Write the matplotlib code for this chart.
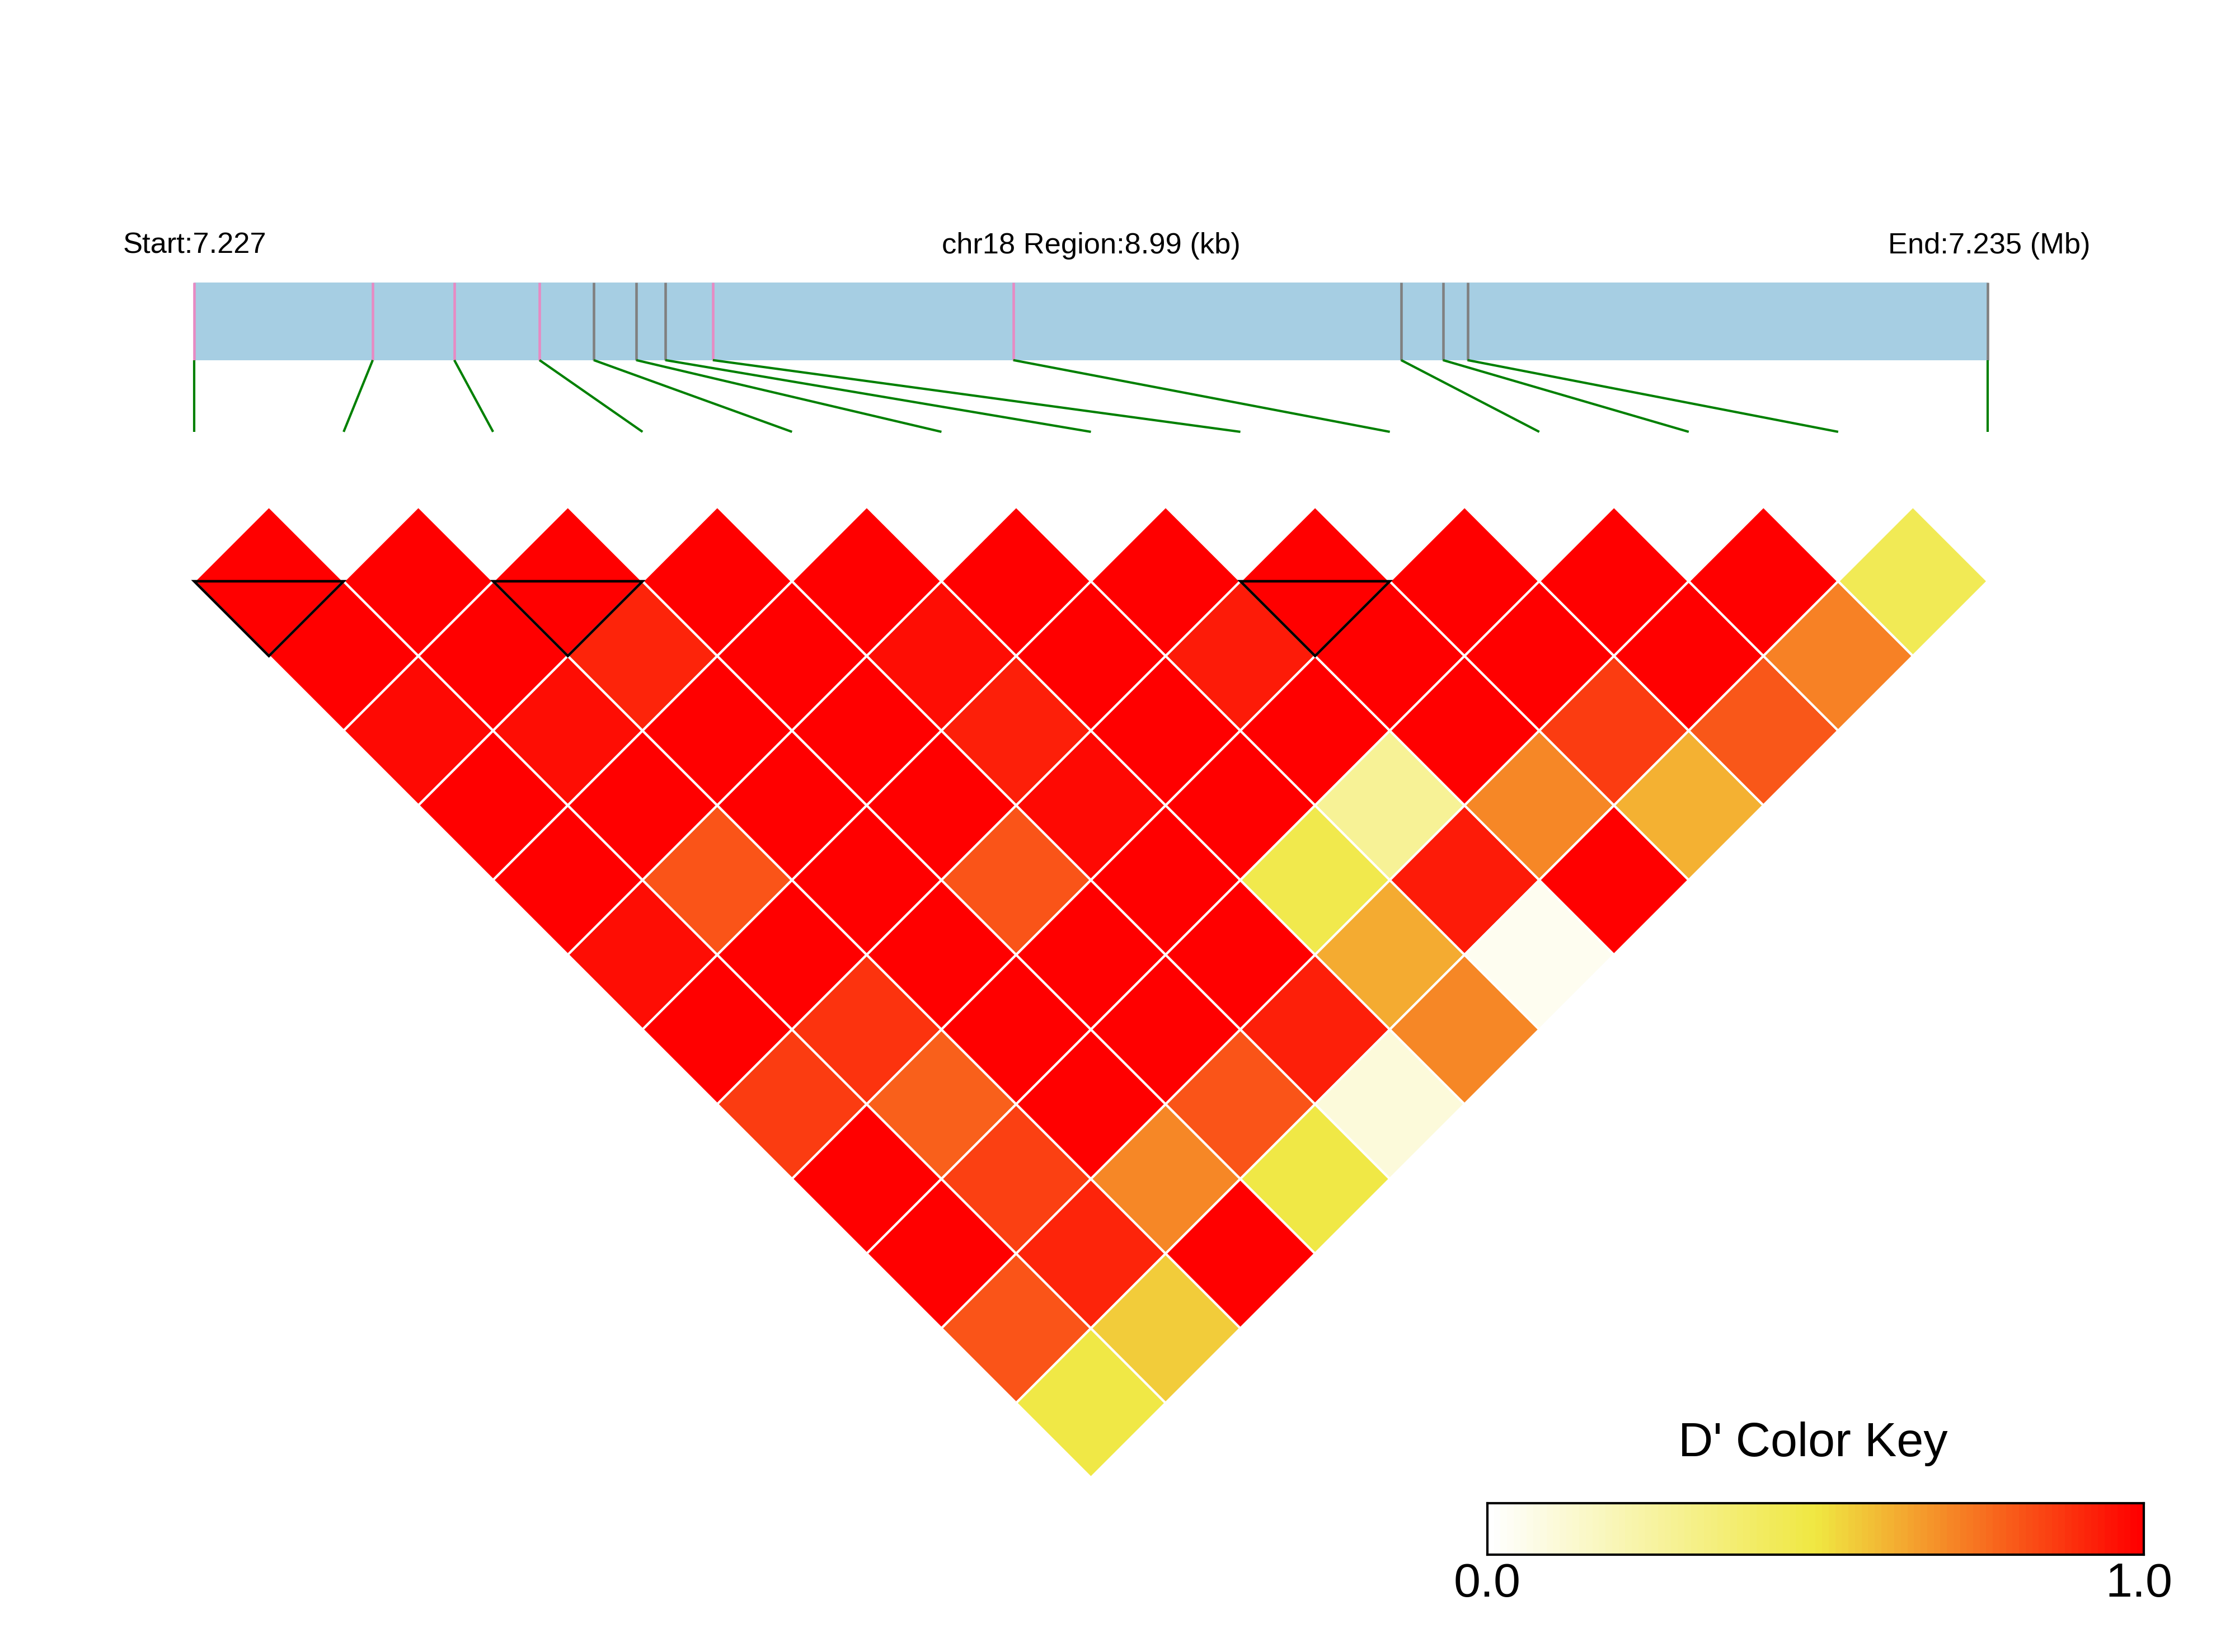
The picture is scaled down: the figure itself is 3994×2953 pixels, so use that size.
import numpy as np
import matplotlib.pyplot as plt
from matplotlib.colors import LinearSegmentedColormap, Normalize
from matplotlib.collections import PolyCollection, LineCollection
from matplotlib.patches import Rectangle, Polygon

plt.rcParams['font.family'] = ['Liberation Sans', 'DejaVu Sans']

chrom = 'chr18'
# SNP positions (bp)
snp_pos = np.array([7226505, 7227400, 7227809, 7228236, 7228508, 7228721, 7228867,
                    7229105, 7230611, 7232555, 7232765, 7232888, 7235495])
# 1 = highlighted (pink) marker, 0 = normal (grey)
snp_flag = [1, 1, 1, 1, 0, 0, 0, 1, 1, 0, 0, 0, 0]

# upper triangle of D' matrix, row i holds pairs (i, i+1 .. n-1)
dprime_rows = [
    [1.00, 1.00, 0.98, 1.00, 1.00, 0.97, 1.00, 0.87, 1.00, 1.00, 0.82, 0.49],
    [1.00, 1.00, 0.97, 1.00, 0.82, 1.00, 0.89, 0.79, 0.86, 0.92, 0.56],
    [1.00, 0.92, 1.00, 1.00, 1.00, 1.00, 1.00, 1.00, 0.71, 1.00],
    [1.00, 1.00, 1.00, 1.00, 0.82, 1.00, 1.00, 0.82, 0.49],
    [1.00, 0.97, 0.93, 0.98, 1.00, 1.00, 0.93, 0.10],
    [1.00, 1.00, 1.00, 1.00, 0.47, 0.63, 0.71],
    [1.00, 0.94, 1.00, 0.28, 0.94, 0.04],
    [1.00, 1.00, 1.00, 0.71, 1.00],
    [1.00, 1.00, 0.87, 0.62],
    [1.00, 1.00, 0.81],
    [1.00, 0.72],
    [0.45],
]

# haplotype blocks (first SNP, last SNP)
blocks = [(0, 1), (2, 3), (7, 8)]

n = len(snp_pos)
W, H = 3994, 2953
fig = plt.figure(figsize=(W / 300, H / 300), dpi=300)
ax = fig.add_axes([0, 0, 1, 1])
unit = 267.08
x0_px, y0_px = 347, 1039
ax.set_xlim(-x0_px / unit, (W - x0_px) / unit)
ax.set_ylim((H - y0_px) / unit, -y0_px / unit)
ax.axis('off')

cmap = LinearSegmentedColormap.from_list('ld', ['#FFFFFF', '#F0E842', '#FF0000'])

# LD diamonds
verts, vals = [], []
for i, row in enumerate(dprime_rows):
    for k, v in enumerate(row):
        j = i + 1 + k
        cx = (i + j) / 2
        cy = (j - i - 1) * 0.5
        verts.append([(cx - 0.5, cy), (cx, cy - 0.5), (cx + 0.5, cy), (cx, cy + 0.5)])
        vals.append(v)
pc = PolyCollection(verts, array=np.array(vals), cmap=cmap, norm=Normalize(0, 1),
                    edgecolors='white', linewidths=1.0)
ax.add_collection(pc)

# block outlines
for i, j in blocks:
    ax.add_patch(Polygon([(i, 0), (j, 0), ((i + j) / 2, (j - i) * 0.5)],
                         closed=True, fill=False, ec='black', lw=1.1))

# region bar
bar_top, bar_bot, link_bot = -2.0, -1.48, -1.0
ax.add_patch(Rectangle((0, bar_top), n - 1, bar_bot - bar_top, fc='#A6CEE3', ec='none'))
bx = (snp_pos - snp_pos[0]) / (snp_pos[-1] - snp_pos[0]) * (n - 1)
tick_cols = ['#E78AC3' if f else '#808080' for f in snp_flag]
ax.vlines(bx, bar_top, bar_bot, colors=tick_cols, lw=1.1)
links = [[(bx[k], bar_bot), (k, link_bot)] for k in range(n)]
ax.add_collection(LineCollection(links, colors='green', linewidths=1.0))

# header text
start_mb = snp_pos[0] / 1e6
end_mb = snp_pos[-1] / 1e6
region_kb = (snp_pos[-1] - snp_pos[0]) / 1000
ty = -2.195
ax.text(-0.476, ty, 'Start:{:.3f}'.format(start_mb), ha='left', va='baseline', fontsize=12.6)
ax.text((n - 1) / 2, ty, '{} Region:{:.2f} (kb)'.format(chrom, region_kb),
        ha='center', va='baseline', fontsize=12.6)
ax.text(12.686, ty, 'End:{:.3f} (Mb)'.format(end_mb), ha='right', va='baseline', fontsize=12.6)

# color key
cax = fig.add_axes([2658 / W, 1 - 2779 / H, (3831 - 2658) / W, 92 / H])
cax.imshow(np.linspace(0, 1, 100)[None, :], cmap=cmap, aspect='auto',
           extent=[0, 1, 0, 1], interpolation='nearest')
cax.set_xticks([])
cax.set_yticks([])
for s in cax.spines.values():
    s.set_linewidth(1.0)
    s.set_color('black')
fig.text(3240 / W, 1 - 2603 / H, "D' Color Key", ha='center', va='baseline', fontsize=20.7)
fig.text(2658 / W, 1 - 2832 / H, '0.0', ha='center', va='center', fontsize=20.7)
fig.text(3822 / W, 1 - 2832 / H, '1.0', ha='center', va='center', fontsize=20.7)

fig.savefig('out.png', dpi=300, facecolor='white')
